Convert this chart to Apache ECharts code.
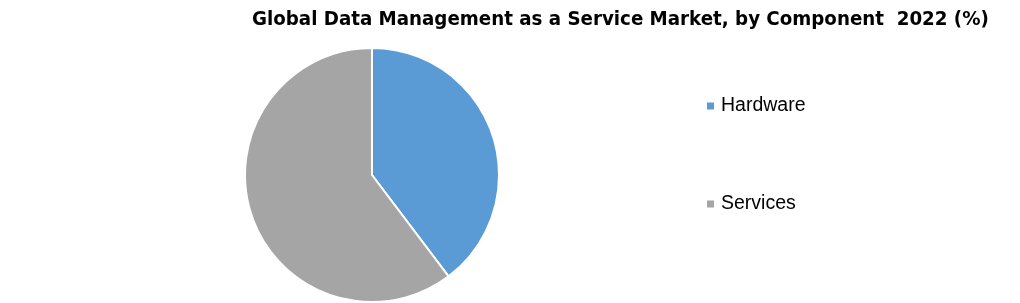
<!DOCTYPE html>
<html>
<head>
<meta charset="utf-8">
<script src="https://cdn.jsdelivr.net/npm/echarts@6/dist/echarts.min.js"></script>
<style>html,body{margin:0;padding:0;background:#fff}#c{width:1020px;height:303px}</style>
</head>
<body>
<div id="c"></div>
<script>
const titleText = 'Global Data Management as a Service Market, by Component  2022 (%)';
const categories = ['Hardware', 'Services'];
const values = [39.7, 60.3];
const colors = ['#5B9BD5', '#A5A5A5'];

const chart = echarts.init(document.getElementById('c'), null, {renderer: 'canvas'});
chart.setOption({
  animation: false,
  backgroundColor: '#ffffff',
  title: {
    text: titleText,
    left: 252,
    top: 10,
    padding: 0,
    textStyle: {
      fontFamily: 'DejaVu Sans Condensed',
      fontWeight: 'bold',
      fontSize: 20.3,
      color: '#000'
    }
  },
  legend: {
    orient: 'vertical',
    left: 705,
    top: 96,
    padding: 0,
    itemWidth: 9,
    itemHeight: 9,
    itemGap: 78,
    icon: 'rect',
    data: categories,
    textStyle: {
      fontFamily: 'Liberation Sans',
      fontSize: 19.5,
      lineHeight: 20,
      color: '#000',
      padding: [0, 0, 0, 1]
    }
  },
  series: [{
    type: 'pie',
    center: [372, 175],
    radius: 127,
    startAngle: 90,
    clockwise: true,
    label: {show: false},
    labelLine: {show: false},
    emphasis: {disabled: true},
    itemStyle: {borderColor: '#ffffff', borderWidth: 2},
    data: categories.map((n, i) => ({name: n, value: values[i], itemStyle: {color: colors[i]}}))
  }]
});
</script>
</body>
</html>
